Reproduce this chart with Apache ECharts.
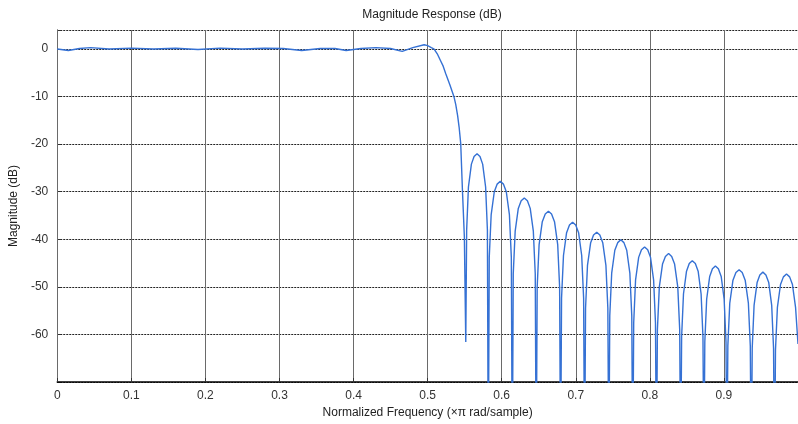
<!DOCTYPE html>
<html>
<head>
<meta charset="utf-8">
<title>Magnitude Response (dB)</title>
<script src="https://cdn.jsdelivr.net/npm/echarts@6/dist/echarts.min.js"></script>
<style>
  html, body { margin: 0; padding: 0; background: #fff; }
  #main { width: 798px; height: 424px; }
</style>
</head>
<body>
<div id="main"></div>
<script>
  // passband + transition band
  var passFreq = [0, 0.015, 0.03, 0.045, 0.07, 0.1, 0.13, 0.16, 0.19, 0.22, 0.25, 0.28, 0.305, 0.33, 0.355, 0.375,
    0.39, 0.41, 0.43, 0.45, 0.4657, 0.48, 0.4953, 0.5, 0.505, 0.5088, 0.513, 0.517, 0.521, 0.5245, 0.53, 0.5357,
    0.538, 0.5405, 0.5425, 0.5447, 0.547, 0.5496];
  var passDb = [0, -0.3, 0.1, 0.3, 0, 0.2, 0, 0.15, -0.1, 0.2, 0, 0.15, 0.1, -0.3, 0.1, 0.1,
    -0.3, 0.1, 0.3, 0.1, -0.5, 0.3, 0.9, 0.7, 0.3, 0, -1.0, -2.3, -3.6, -5.2, -7.5, -10.1,
    -11.7, -14.0, -16.4, -19.9, -29.7, -39.5];

  // stopband lobes, null -> lobe -> null ...
  var stopFreq = [
    0.5515, 0.5527, 0.5551, 0.5591, 0.5627, 0.5667, 0.5707, 0.5743, 0.5783, 0.5807,
    0.5819, 0.5832, 0.5858, 0.5900, 0.5939, 0.5981, 0.6023, 0.6062, 0.6104, 0.6130,
    0.6143, 0.6156, 0.6182, 0.6224, 0.6263, 0.6305, 0.6347, 0.6385, 0.6427, 0.6453,
    0.6466, 0.6479, 0.6505, 0.6548, 0.6588, 0.6631, 0.6673, 0.6713, 0.6756, 0.6782,
    0.6795, 0.6808, 0.6834, 0.6876, 0.6915, 0.6957, 0.6999, 0.7038, 0.7080, 0.7106,
    0.7119, 0.7132, 0.7158, 0.7201, 0.7240, 0.7283, 0.7325, 0.7364, 0.7407, 0.7433,
    0.7446, 0.7459, 0.7485, 0.7527, 0.7566, 0.7608, 0.7650, 0.7688, 0.7730, 0.7756,
    0.7769, 0.7782, 0.7807, 0.7849, 0.7887, 0.7929, 0.7971, 0.8009, 0.8051, 0.8076,
    0.8089, 0.8102, 0.8128, 0.8171, 0.8210, 0.8253, 0.8295, 0.8334, 0.8377, 0.8403,
    0.8416, 0.8429, 0.8454, 0.8495, 0.8532, 0.8573, 0.8614, 0.8652, 0.8692, 0.8717,
    0.8730, 0.8742, 0.8767, 0.8808, 0.8845, 0.8885, 0.8925, 0.8963, 0.9003, 0.9028,
    0.9040, 0.9053, 0.9079, 0.9122, 0.9162, 0.9205, 0.9247, 0.9287, 0.9330, 0.9356,
    0.9369, 0.9382, 0.9407, 0.9448, 0.9485, 0.9526, 0.9567, 0.9605, 0.9645, 0.9670,
    0.9683, 0.9696, 0.9722, 0.9764, 0.9803, 0.9845, 0.9887, 0.9925, 0.9967, 1.0
  ];
  var stopDb = [
    -61.6, -38.0, -29.0, -24.2, -22.6, -22.0, -22.6, -24.2, -29.0, -38.0,
    -90, -43.8, -34.8, -30.0, -28.4, -27.8, -28.4, -30.0, -34.8, -43.8,
    -90, -47.3, -38.3, -33.5, -31.9, -31.3, -31.9, -33.5, -38.3, -47.3,
    -90, -50.1, -41.1, -36.3, -34.7, -34.1, -34.7, -36.3, -41.1, -50.1,
    -90, -52.4, -43.4, -38.6, -37.0, -36.4, -37.0, -38.6, -43.4, -52.4,
    -90, -54.5, -45.5, -40.7, -39.1, -38.5, -39.1, -40.7, -45.5, -54.5,
    -90, -56.1, -47.1, -42.3, -40.7, -40.1, -40.7, -42.3, -47.1, -56.1,
    -90, -57.6, -48.6, -43.8, -42.2, -41.6, -42.2, -43.8, -48.6, -57.6,
    -90, -59.0, -50.0, -45.2, -43.6, -43.0, -43.6, -45.2, -50.0, -59.0,
    -90, -60.5, -51.5, -46.7, -45.1, -44.5, -45.1, -46.7, -51.5, -60.5,
    -90, -61.6, -52.6, -47.8, -46.2, -45.6, -46.2, -47.8, -52.6, -61.6,
    -90, -62.4, -53.4, -48.6, -47.0, -46.4, -47.0, -48.6, -53.4, -62.4,
    -90, -62.9, -53.9, -49.1, -47.5, -46.9, -47.5, -49.1, -53.9, -62.9,
    -90, -63.3, -54.3, -49.5, -47.9, -47.3, -47.9, -49.5, -54.3, -62.0
  ];

  var xTicks = [0, 0.1, 0.2, 0.3, 0.4, 0.5, 0.6, 0.7, 0.8, 0.9];
  var yTicks = [0, -10, -20, -30, -40, -50, -60];

  var freq = passFreq.concat(stopFreq);
  var mag = passDb.concat(stopDb);
  var lineData = [];
  for (var i = 0; i < freq.length; i++) {
    lineData.push([freq[i], mag[i]]);
  }

  var font = 'Liberation Sans, Arial, sans-serif';
  var myChart = echarts.init(document.getElementById('main'));
  myChart.setOption({
    animation: false,
    backgroundColor: '#fff',
    title: {
      text: 'Magnitude Response (dB)',
      left: 427,
      textAlign: 'center',
      top: 4,
      textStyle: {fontFamily: font, fontSize: 12, fontWeight: 'normal', color: '#222'}
    },
    grid: {left: 57, right: 0, top: 30, bottom: 42, show: false},
    xAxis: {
      type: 'value',
      z: 1,
      min: 0,
      max: 1,
      interval: 0.1,
      name: 'Normalized Frequency (×π rad/sample)',
      nameLocation: 'middle',
      nameGap: 24,
      nameTextStyle: {fontFamily: font, fontSize: 12, color: '#222'},
      axisLine: {onZero: false, lineStyle: {color: '#000', width: 1.5}},
      axisTick: {inside: true, length: 4, lineStyle: {color: '#333'}},
      axisLabel: {
        fontFamily: font, fontSize: 12, color: '#333', margin: 8,
        showMaxLabel: false,
        formatter: function (v) {
          var t = Math.round(v * 10) / 10;
          return xTicks.indexOf(t) >= 0 ? String(t) : '';
        }
      },
      splitLine: {show: true, lineStyle: {color: '#6a6a6a', width: 1, type: 'solid'}}
    },
    yAxis: {
      type: 'value',
      z: 0,
      min: -70,
      max: 4,
      interval: 10,
      name: 'Magnitude (dB)',
      nameLocation: 'middle',
      nameGap: 33,
      nameTextStyle: {fontFamily: font, fontSize: 12, color: '#222'},
      axisLine: {show: true, onZero: false, lineStyle: {color: '#000', width: 1}},
      axisTick: {show: true, inside: true, length: 4, lineStyle: {color: '#333'}},
      axisLabel: {
        fontFamily: font, fontSize: 12, color: '#333', margin: 9,
        formatter: function (v) {
          return yTicks.indexOf(v) >= 0 ? String(v) : '';
        }
      },
      splitLine: {show: true, lineStyle: {color: '#222', width: 1, type: [2, 1]}}
    },
    series: [
      {
        name: 'Magnitude',
        type: 'line',
        data: lineData,
        showSymbol: false,
        smooth: false,
        clip: true,
        lineStyle: {color: '#3571d4', width: 1.4}
      }
    ]
  });
</script>
</body>
</html>
